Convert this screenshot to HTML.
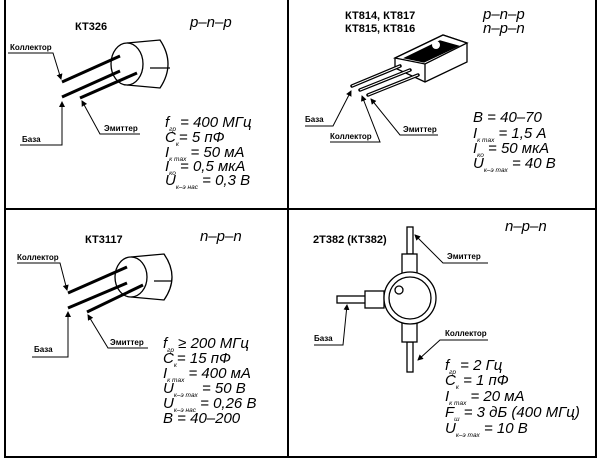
<!DOCTYPE html>
<html><head><meta charset="utf-8"><style>
html,body{margin:0;padding:0;background:#fff;}
svg{display:block;font-family:"Liberation Sans",sans-serif;}
.t{font-weight:bold;font-size:11px;}
.s{font-style:italic;font-size:15px;}
.b{font-size:6.5px;}
.l{font-size:8px;font-weight:bold;}
</style></head><body>
<svg width="600" height="463" viewBox="0 0 600 463" xmlns="http://www.w3.org/2000/svg">
<defs><marker id="a" markerWidth="6" markerHeight="6" refX="5" refY="3" orient="auto"><path d="M0,0L6,3L0,6z" fill="#000"/></marker></defs>
<g stroke="#000" fill="none">
<line x1="5" y1="0" x2="5" y2="458" stroke-width="2"/>
<line x1="596" y1="0" x2="596" y2="458" stroke-width="2"/>
<line x1="288" y1="0" x2="288" y2="458" stroke-width="2"/>
<line x1="5" y1="209" x2="596" y2="209" stroke-width="2"/>
<line x1="5" y1="457" x2="596" y2="457" stroke-width="2"/>
</g>
<!-- Panel 1 -->
<text class="t" x="75" y="30">КТ326</text>
<text class="s" x="190" y="27">p–n–p</text>
<g stroke="#000" fill="#fff" stroke-width="1.3">
<path d="M127,43 L160,40 Q176,64 160,88 L127,85"/>
<ellipse cx="127" cy="64" rx="16" ry="21"/>
<line x1="62" y1="82" x2="120" y2="56" stroke-width="3"/>
<line x1="62" y1="97" x2="120" y2="71" stroke-width="3"/>
<line x1="80" y1="98" x2="137" y2="73" stroke-width="3"/>
<line x1="150" y1="68" x2="170" y2="68"/>
</g>
<g stroke="#000" fill="none" stroke-width="1">
<polyline points="8,53 53,53 61,79" marker-end="url(#a)"/>
<polyline points="20,145 62,145 62,102" marker-end="url(#a)"/>
<polyline points="140,134 100,134 82,101" marker-end="url(#a)"/>
</g>
<text class="l" x="10" y="50">Коллектор</text>
<text class="l" x="22" y="142">База</text>
<text class="l" x="104" y="131">Эмиттер</text>
<text class="s" x="165" y="127">f<tspan class="b" dy="4">гр</tspan><tspan dy="-4"> = 400 МГц</tspan></text>
<text class="s" x="165" y="142">C<tspan class="b" dy="4">к</tspan><tspan dy="-4">= 5 пФ</tspan></text>
<text class="s" x="165" y="157">I<tspan class="b" dy="4">к max</tspan><tspan dy="-4"> = 50 мА</tspan></text>
<text class="s" x="165" y="171">I<tspan class="b" dy="4">ко</tspan><tspan dy="-4"> = 0,5 мкА</tspan></text>
<text class="s" x="165" y="185">U<tspan class="b" dy="4">к–э нас</tspan><tspan dy="-4"> = 0,3 В</tspan></text>
<!-- Panel 2 -->
<text class="t" x="345" y="19">КТ814, КТ817</text>
<text class="t" x="345" y="32">КТ815, КТ816</text>
<text class="s" x="483" y="19">p–n–p</text>
<text class="s" x="483" y="33">n–p–n</text>
<g stroke="#000" stroke-width="1.3">
<polygon points="395,58 443,35 467,43 467,62 425,82 395,68" fill="#fff"/>
<polygon points="395,58 443,35 467,43 425,64" fill="#fff"/>
<polygon points="405,58 440,41 458,46 424,62" fill="#000"/>
<line x1="425" y1="64" x2="425" y2="82"/>
</g>
<circle cx="436" cy="45" r="4" fill="#fff"/>
<g stroke="#000" stroke-width="3.5" stroke-linecap="round">
<line x1="352" y1="86" x2="400" y2="66"/>
<line x1="360" y1="90" x2="410" y2="70"/>
<line x1="368" y1="95" x2="418" y2="75"/>
</g>
<g stroke="#fff" stroke-width="1">
<line x1="352" y1="86" x2="400" y2="66"/>
<line x1="360" y1="90" x2="410" y2="70"/>
<line x1="368" y1="95" x2="418" y2="75"/>
</g>
<g stroke="#000" fill="none" stroke-width="1">
<polyline points="305,126 333,126 351,91" marker-end="url(#a)"/>
<polyline points="330,142 380,142 362,96" marker-end="url(#a)"/>
<polyline points="438,135 400,135 371,99" marker-end="url(#a)"/>
</g>
<text class="l" x="305" y="122">База</text>
<text class="l" x="330" y="139">Коллектор</text>
<text class="l" x="403" y="132">Эмиттер</text>
<text class="s" x="473" y="122">B = 40–70</text>
<text class="s" x="473" y="138">I<tspan class="b" dy="4">к max</tspan><tspan dy="-4"> = 1,5 А</tspan></text>
<text class="s" x="473" y="153">I<tspan class="b" dy="4">ко</tspan><tspan dy="-4"> = 50 мкА</tspan></text>
<text class="s" x="473" y="168">U<tspan class="b" dy="4">к–э max</tspan><tspan dy="-4"> = 40 В</tspan></text>
<!-- Panel 3 -->
<text class="t" x="85" y="243">КТ3117</text>
<text class="s" x="200" y="241">n–p–n</text>
<g stroke="#000" fill="#fff" stroke-width="1.3">
<path d="M131,257 L164,254 Q180,277 164,300 L131,297"/>
<ellipse cx="131" cy="277" rx="16" ry="20"/>
<line x1="68" y1="293" x2="127" y2="267" stroke-width="3"/>
<line x1="68" y1="308" x2="127" y2="283" stroke-width="3"/>
<line x1="87" y1="312" x2="143" y2="285" stroke-width="3"/>
<line x1="154" y1="281" x2="172" y2="281"/>
</g>
<g stroke="#000" fill="none" stroke-width="1">
<polyline points="17,263 60,263 67,290" marker-end="url(#a)"/>
<polyline points="32,357 68,357 68,312" marker-end="url(#a)"/>
<polyline points="148,348 108,348 88,315" marker-end="url(#a)"/>
</g>
<text class="l" x="17" y="260">Коллектор</text>
<text class="l" x="34" y="352">База</text>
<text class="l" x="110" y="345">Эмиттер</text>
<text class="s" x="163" y="348">f<tspan class="b" dy="4">гр</tspan><tspan dy="-4"> ≥ 200 МГц</tspan></text>
<text class="s" x="163" y="363">C<tspan class="b" dy="4">к</tspan><tspan dy="-4">= 15 пФ</tspan></text>
<text class="s" x="163" y="378">I<tspan class="b" dy="4">к max</tspan><tspan dy="-4"> = 400 мА</tspan></text>
<text class="s" x="163" y="393">U<tspan class="b" dy="4">к–э max</tspan><tspan dy="-4"> = 50 В</tspan></text>
<text class="s" x="163" y="408">U<tspan class="b" dy="4">к–э нас</tspan><tspan dy="-4"> = 0,26 В</tspan></text>
<text class="s" x="163" y="423">B = 40–200</text>
<!-- Panel 4 -->
<text class="t" x="313" y="243">2Т382 (КТ382)</text>
<text class="s" x="505" y="231">n–p–n</text>
<g stroke="#000" fill="#fff" stroke-width="1.3">
<rect x="407" y="227" width="6" height="27"/>
<rect x="402" y="254" width="15" height="20"/>
<rect x="407" y="342" width="6" height="30"/>
<rect x="402" y="322" width="15" height="20"/>
<rect x="337" y="296" width="29" height="7"/>
<rect x="365" y="291" width="19" height="17"/>
<circle cx="410" cy="298" r="26"/>
<circle cx="410" cy="298" r="21"/>
<circle cx="399" cy="290" r="4"/>
</g>
<g stroke="#000" fill="none" stroke-width="1">
<polyline points="488,263 443,263 415,235" marker-end="url(#a)"/>
<polyline points="488,340 440,340 418,360" marker-end="url(#a)"/>
<polyline points="314,345 343,345 347,305" marker-end="url(#a)"/>
</g>
<text class="l" x="447" y="259">Эмиттер</text>
<text class="l" x="445" y="336">Коллектор</text>
<text class="l" x="314" y="341">База</text>
<text class="s" x="445" y="370">f<tspan class="b" dy="4">гр</tspan><tspan dy="-4"> = 2 Гц</tspan></text>
<text class="s" x="445" y="385">C<tspan class="b" dy="4">к</tspan><tspan dy="-4"> = 1 пФ</tspan></text>
<text class="s" x="445" y="401">I<tspan class="b" dy="4">к max</tspan><tspan dy="-4"> = 20 мА</tspan></text>
<text class="s" x="445" y="417">F<tspan class="b" dy="4">ш</tspan><tspan dy="-4"> = 3 дБ (400 МГц)</tspan></text>
<text class="s" x="445" y="433">U<tspan class="b" dy="4">к–э max</tspan><tspan dy="-4"> = 10 В</tspan></text>
</svg>
</body></html>
